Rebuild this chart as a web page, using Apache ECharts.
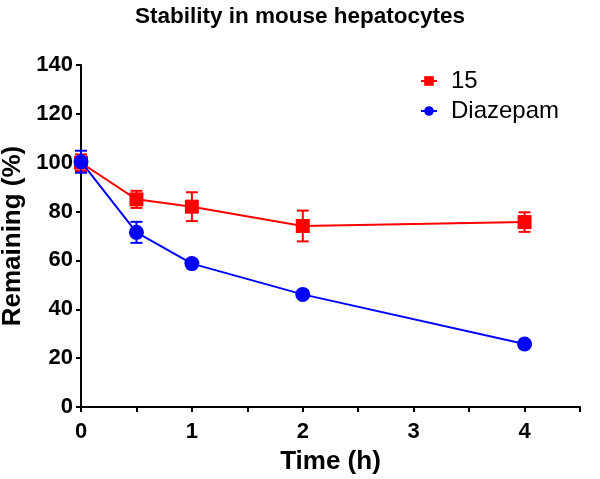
<!DOCTYPE html>
<html><head><meta charset="utf-8">
<script src="https://cdn.jsdelivr.net/npm/echarts@6/dist/echarts.min.js"></script>
<style>html,body{margin:0;padding:0;background:#fff}#c{width:600px;height:479px}</style>
</head><body><div id="c"></div>
<script>
const times = [0, 0.5, 1, 2, 4];
const cmp15 = [100, 85.0, 82.0, 74.1, 75.7];
const cmp15Err = [3.4, 3.5, 5.9, 6.3, 4.0];
const diazepam = [100.4, 71.5, 58.7, 46.1, 25.8];
const diazepamErr = [4.5, 4.3, 0, 0, 0];
const yTicks = [0, 20, 40, 60, 80, 100, 120, 140];
const xTicks = [0, 1, 2, 3, 4];

const font = 'Liberation Sans, Arial, sans-serif';
function errSeries(vals, errs, color) {
  return {
    type: 'custom', silent: true, z: 1,
    data: times.map((t, i) => [t, vals[i] - errs[i], vals[i] + errs[i]]),
    renderItem: function (params, api) {
      const lo = api.coord([api.value(0), api.value(1)]);
      const hi = api.coord([api.value(0), api.value(2)]);
      const w = 6;
      const st = { stroke: color, lineWidth: 2 };
      return { type: 'group', children: [
        { type: 'line', shape: { x1: lo[0], y1: lo[1], x2: hi[0], y2: hi[1] }, style: st },
        { type: 'line', shape: { x1: lo[0] - w, y1: lo[1], x2: lo[0] + w, y2: lo[1] }, style: st },
        { type: 'line', shape: { x1: hi[0] - w, y1: hi[1], x2: hi[0] + w, y2: hi[1] }, style: st }
      ]};
    }
  };
}
const chart = echarts.init(document.getElementById('c'));
chart.setOption({
  animation: false,
  title: { text: 'Stability in mouse hepatocytes', left: 'center', top: 0,
    textStyle: { fontFamily: font, fontWeight: 'bold', fontSize: 22.5, color: '#000' } },
  legend: { left: 415, top: 64, orient: 'vertical', itemGap: 6, itemWidth: 16, itemHeight: 12,
    textStyle: { fontFamily: font, fontSize: 24, color: '#000', padding: [0, 0, 0, 9] },
    data: ['15', 'Diazepam'] },
  grid: { left: 81, right: 20, top: 65, bottom: 72, containLabel: false, outerBoundsMode: 'none' },
  xAxis: { type: 'value', min: 0, max: 4.5, interval: 0.5,
    name: 'Time (h)', nameLocation: 'middle', nameGap: 42,
    nameTextStyle: { fontFamily: font, fontWeight: 'bold', fontSize: 26, color: '#000' },
    axisLine: { lineStyle: { color: '#000', width: 2 } },
    axisTick: { show: true, length: 5, lineStyle: { color: '#000', width: 2 } },
    axisLabel: { fontFamily: font, fontWeight: 'bold', fontSize: 22, color: '#000', margin: 14,
      formatter: v => (xTicks.indexOf(v) >= 0 ? String(v) : '') },
    splitLine: { show: false } },
  yAxis: { type: 'value', min: 0, max: 140, interval: 20,
    name: 'Remaining (%)', nameLocation: 'middle', nameGap: 52, nameRotate: 90,
    nameTextStyle: { fontFamily: font, fontWeight: 'bold', fontSize: 26, color: '#000' },
    axisLine: { show: true, lineStyle: { color: '#000', width: 2 } },
    axisTick: { show: true, length: 5, lineStyle: { color: '#000', width: 2 } },
    axisLabel: { fontFamily: font, fontWeight: 'bold', fontSize: 22, color: '#000', margin: 8,
      formatter: v => (yTicks.indexOf(v) >= 0 ? String(v) : '') },
    splitLine: { show: false } },
  series: [
    errSeries(cmp15, cmp15Err, '#ff0000'),
    errSeries(diazepam, diazepamErr, '#0000ff'),
    { name: '15', type: 'line', data: times.map((t, i) => [t, cmp15[i]]), z: 3,
      symbol: 'rect', symbolSize: 14, color: '#ff0000',
      lineStyle: { color: '#ff0000', width: 2 }, itemStyle: { color: '#ff0000' } },
    { name: 'Diazepam', type: 'line', data: times.map((t, i) => [t, diazepam[i]]), z: 4,
      symbol: 'circle', symbolSize: 15, color: '#0000ff',
      lineStyle: { color: '#0000ff', width: 2 }, itemStyle: { color: '#0000ff' } }
  ]
});
</script></body></html>
